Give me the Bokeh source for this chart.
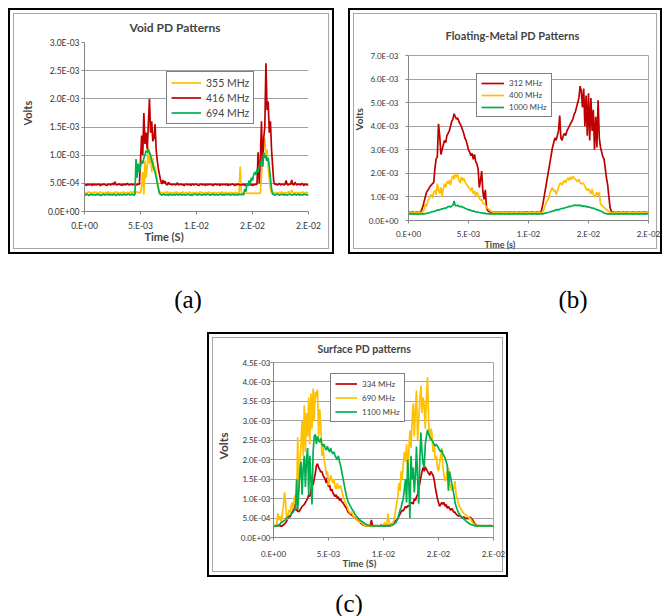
import numpy as np
from bokeh.plotting import figure
from bokeh.models import (Range1d, FixedTicker, Legend, LegendItem, Title, Div, Spacer,
                          ColumnDataSource)
from bokeh.layouts import row, column
from bokeh.embed import file_html
from bokeh.resources import INLINE

# ---------------- data ----------------
T_STEP = 1e-4          # seconds between samples
V_UNIT = 1e-4          # series values below are in units of 1e-4 V

X_TICKS = [0.0, 0.005, 0.01, 0.015, 0.02]
X_LABELS = ["0.E+00", "5.E-03", "1.E-02", "2.E-02", "2.E-02"]

A_Y_TICKS = [0.0, 0.0005, 0.001, 0.0015, 0.002, 0.0025, 0.003]
A_Y_LABELS = ["0.0E+00", "5.0E-04", "1.0E-03", "1.5E-03", "2.0E-03", "2.5E-03", "3.0E-03"]
B_Y_TICKS = [0.0, 0.001, 0.002, 0.003, 0.004, 0.005, 0.006, 0.007]
B_Y_LABELS = ["0.0E+00", "1.0E-03", "2.0E-03", "3.0E-03", "4.0E-03", "5.0E-03", "6.0E-03", "7.0E-03"]
C_Y_TICKS = [0.0, 0.0005, 0.001, 0.0015, 0.002, 0.0025, 0.003, 0.0035, 0.004, 0.0045]
C_Y_LABELS = ["0.0E+00", "5.0E-04", "1.0E-03", "1.5E-03", "2.0E-03", "2.5E-03", "3.0E-03",
              "3.5E-03", "4.0E-03", "4.5E-03"]

# (a) Void PD patterns
A_355 = [3.3,3.2,3.4,3.3,3.5,3.3,3.2,3.4,3.3,3.5, 3.3,3.4,3.2,3.3,3.5,3.3,3.4,3.2,3.3,3.4,
         3.3,3.5,3.2,3.4,3.3,3.2,3.4,3.3,3.5,3.3, 3.4,3.2,3.3,3.4,3.3,3.5,3.2,3.3,3.4,3.3,
         3.3,3.5,3.4,3.2,3.6,3.3,3.4,3.5,3.3,3.4, 3.3,4.5,7.0,3.0,9.0,6.0,8.0,11.5,8.5,10.0,
         7.0,9.5,7.5,8.0,6.5,5.5,4.2,3.5,3.3,3.4, 3.2,3.3,3.4,3.3,3.5,3.2,3.3,3.4,3.3,3.2,
         3.4,3.3,3.5,3.3,3.2,3.4,3.3,3.3,3.5,3.2, 3.3,3.4,3.2,3.3,3.5,3.3,3.2,3.4,3.3,3.3,
         3.4,3.3,3.2,3.5,3.3,3.4,3.3,3.2,3.4,3.3, 3.3,3.5,3.3,3.2,3.4,3.3,3.3,3.4,3.2,3.3,
         3.4,3.3,3.3,3.5,3.2,3.3,3.4,3.3,3.2,3.4, 3.3,3.4,3.2,3.3,3.3,3.4,3.2,3.3,3.3,8.0,
         3.3,3.2,3.2,3.3,3.2,3.2,3.3,3.2,3.2,3.3, 3.2,3.2,3.3,3.2,3.2,3.3,3.2,3.3,6.0,10.0,
         12.5,13.0,9.0,11.0,8.0,6.0,4.0,3.3,3.4,3.2, 3.3,3.4,3.3,3.2,3.4,3.3,3.5,3.3,3.2,3.4,
         3.3,3.3,3.5,3.4,3.3,3.8,3.4,3.2,3.3,3.4, 3.3,3.2,3.4,3.3,3.3,3.5,3.2,3.3,3.4,3.3, 3.3]
A_416 = [4.7,4.8,4.6,4.9,4.7,4.8,4.8,4.6,4.9,4.7, 4.8,4.7,4.9,4.8,4.6,4.8,4.7,4.9,4.8,4.7,
         4.6,4.8,4.9,4.7,4.8,5.0,4.7,5.3,4.8,4.7, 4.8,4.9,4.7,4.8,4.6,4.9,4.8,4.7,5.0,4.8,
         4.7,4.8,4.9,4.7,4.8,4.9,4.8,4.7,4.9,4.8, 9.0,13.5,10.0,17.5,12.0,14.0,11.0,15.5,20.0,14.0,
         16.0,12.5,13.0,15.5,11.0,9.0,7.5,6.5,5.5,4.9, 5.6,5.0,5.4,4.8,4.7,5.2,4.8,4.9,4.7,4.8,
         4.9,4.7,4.8,5.1,4.7,4.8,4.9,4.7,4.8,4.6, 4.8,4.9,4.7,4.8,4.8,4.6,4.9,4.8,4.7,4.9,
         4.8,4.7,4.6,4.8,4.9,4.7,4.8,4.8,4.6,4.9, 4.7,4.8,4.9,4.7,4.8,4.6,4.8,4.9,4.7,4.8,
         4.8,4.6,4.9,4.7,4.8,4.8,4.7,4.9,4.6,4.8, 4.7,4.8,4.9,4.8,4.6,4.8,4.7,4.9,4.8,4.7,
         4.8,4.7,4.9,4.6,4.8,4.7,4.9,4.8,4.7,4.8, 4.6,4.8,4.7,4.9,4.8,10.5,5.0,9.0,16.0,8.0,
         13.0,15.0,26.3,18.0,19.5,14.0,16.0,11.0,8.0,5.2, 4.8,4.9,4.7,4.8,5.0,4.7,4.8,4.9,4.7,4.8,
         5.5,4.8,4.7,4.9,4.8,5.6,4.8,4.7,5.2,4.8, 4.7,4.9,4.8,4.7,5.0,4.8,4.6,4.9,4.8,4.7, 4.8]
A_694 = [3.0,2.9,3.1,3.0,2.8,3.0,3.1,2.9,3.0,3.0, 2.9,3.0,3.1,2.9,3.0,2.8,3.0,3.1,2.9,3.0,
         3.0,3.1,2.9,3.0,3.0,2.9,3.1,3.0,2.8,3.0, 3.1,2.9,3.0,3.0,2.9,3.1,3.0,2.9,3.0,3.1,
         3.0,2.9,3.1,3.0,2.9,3.0,9.3,6.0,8.5,7.0, 8.0,9.0,8.5,9.5,10.0,10.8,10.5,11.0,10.5,10.0,
         9.0,8.5,7.5,7.0,6.0,5.0,4.0,3.2,3.0,2.9, 3.0,3.1,2.9,3.0,3.0,2.8,3.1,3.0,2.9,3.0,
         3.0,2.9,3.1,3.0,2.9,3.0,3.1,2.9,3.0,3.0, 2.9,3.0,3.0,3.1,2.9,3.0,2.8,3.0,3.1,3.0,
         3.0,2.9,3.1,3.0,3.0,2.9,3.0,3.1,2.9,3.0, 3.1,3.0,2.9,3.0,3.0,3.1,2.9,3.0,3.0,2.9,
         3.0,3.0,3.1,2.9,3.0,2.9,3.1,3.0,3.0,3.1, 2.9,3.0,3.0,3.1,2.9,3.0,3.0,2.9,3.1,3.0,
         3.0,3.1,2.9,4.0,3.5,5.0,4.5,5.5,4.8,6.0, 5.5,6.5,7.0,6.5,7.5,7.0,8.0,8.5,9.0,8.0,
         10.5,9.5,10.0,9.0,9.5,8.0,6.0,4.0,3.1,3.0, 2.9,3.0,3.1,3.0,2.9,3.0,3.0,3.1,2.9,3.0,
         3.0,2.9,3.0,3.1,3.0,2.9,3.0,3.0,3.1,2.9, 3.0,3.1,2.9,3.0,3.0,2.9,3.1,3.0,3.0,2.9, 3.0]

# (b) Floating-metal PD patterns
B_312 = [3.6,3.5,3.4,3.6,3.5,3.5,3.4,3.6,3.5,3.5, 3.6,4.5,6.0,8.0,10.0,12.0,12.7,13.5,14.5,15.0,
         15.7,16.0,22.0,26.0,27.0,41.0,36.0,28.0,30.0,32.0, 34.0,33.0,36.0,37.0,38.0,40.0,42.0,43.0,45.3,44.0,
         43.0,43.5,42.0,41.0,40.0,38.5,37.0,35.0,34.0,32.0, 30.0,29.0,27.5,28.5,26.0,28.0,25.0,24.0,22.0,14.0,
         17.0,21.0,12.0,9.0,13.0,5.5,4.2,3.8,3.6,3.5, 3.6,3.5,3.4,3.6,3.5,3.5,3.6,3.4,3.5,3.5,
         3.5,3.6,3.4,3.5,3.5,3.6,3.5,3.4,3.6,3.5, 3.4,3.5,3.6,3.5,3.5,3.4,3.6,3.5,3.5,3.6,
         3.5,3.4,3.5,3.6,3.5,3.5,3.4,3.6,3.5,3.5, 3.6,4.5,7.0,10.0,13.0,16.0,19.0,22.0,25.0,28.0,
         31.0,33.0,35.0,34.0,36.0,38.0,44.5,35.0,34.0,36.0, 37.0,36.0,38.0,39.0,40.0,41.0,42.0,43.0,45.0,46.0,
         48.0,50.0,52.0,57.0,55.0,48.0,56.0,40.0,53.0,36.0, 54.0,34.0,52.0,38.0,47.0,30.0,44.0,31.0,51.0,35.0,
         31.0,29.0,27.0,26.0,22.0,18.0,15.0,10.0,5.5,3.8, 3.5,3.6,3.4,3.5,3.5,3.6,3.5,3.4,3.5,3.6,
         3.5,3.4,3.6,3.5,3.5,3.4,3.5,3.6,3.5,3.5, 3.4,3.5,3.6,3.5,3.4,3.5,3.5,3.6,3.5,3.4, 3.5]
B_400 = [3.4,3.3,3.5,3.4,3.3,3.4,3.5,3.3,3.4,3.4, 3.4,3.5,3.6,4.5,7.0,6.0,8.5,9.0,10.5,11.0,
         9.5,12.0,12.7,11.0,15.6,13.0,11.4,14.0,10.0,13.5, 15.6,14.0,16.5,15.6,17.0,15.0,18.0,19.0,17.5,20.0,
         18.5,19.5,17.0,16.0,18.5,17.0,18.0,16.5,15.5,15.0, 14.0,13.6,12.5,14.0,11.3,12.5,10.5,12.0,11.0,9.5,
         8.5,9.0,7.5,7.0,6.5,5.5,5.2,4.7,4.2,3.9, 3.6,3.5,3.4,3.5,3.4,3.3,3.5,3.4,3.4,3.5,
         3.4,3.3,3.5,3.4,3.4,3.5,3.3,3.4,3.5,3.4, 3.3,3.4,3.5,3.4,3.3,3.4,3.5,3.4,3.4,3.3,
         3.4,3.5,3.4,3.3,3.4,3.5,3.4,3.4,3.3,3.5, 3.4,3.5,3.6,5.0,6.5,8.0,8.5,10.0,12.0,13.0,
         14.0,12.5,13.0,11.0,12.5,14.0,15.5,16.0,15.0,16.5, 17.0,16.0,17.5,18.0,17.0,18.5,17.5,18.6,18.0,17.5,
         17.0,16.5,17.5,16.0,15.5,16.0,15.5,14.5,13.5,12.7, 13.5,12.5,11.3,13.4,11.0,9.9,11.0,12.0,10.5,12.0,
         7.0,6.5,6.0,5.6,5.0,4.6,4.2,3.8,3.5,3.4, 3.4,3.3,3.5,3.4,3.4,3.3,3.5,3.4,3.3,3.4,
         3.5,3.4,3.3,3.4,3.5,3.4,3.4,3.3,3.5,3.4, 3.4,3.3,3.4,3.5,3.4,3.4,3.3,3.4,3.5,3.4, 3.4]
B_1000 = [2.8,2.7,2.9,2.8,2.8,2.7,2.9,2.8,2.7,2.8, 2.8,2.9,2.7,2.8,2.9,3.0,3.1,3.3,3.4,3.6,
          3.8,3.7,4.0,4.2,4.5,4.3,4.6,4.8,5.0,4.9, 5.3,5.2,5.5,5.8,6.0,5.7,6.2,6.5,8.3,6.3,
          6.2,6.5,6.0,5.8,6.1,5.5,5.6,5.2,5.0,4.8, 4.5,4.6,4.2,4.0,4.1,3.8,3.7,3.5,3.6,3.4,
          3.3,3.2,3.1,3.0,3.1,2.9,2.8,2.9,2.8,2.7, 2.8,2.9,2.7,2.8,2.8,2.9,2.7,2.8,2.9,2.8,
          2.7,2.8,2.8,2.9,2.7,2.8,2.8,2.7,2.9,2.8, 2.8,2.7,2.9,2.8,2.8,2.7,2.8,2.9,2.8,2.7,
          2.8,2.9,2.8,2.7,2.8,2.8,2.9,2.7,2.8,2.8, 2.8,2.9,2.8,3.0,3.1,3.2,3.4,3.5,3.7,3.8,
          4.0,4.1,4.3,4.5,4.6,4.5,4.8,5.0,5.2,5.1, 5.3,5.5,5.6,5.8,6.0,5.9,6.2,6.3,6.5,6.4,
          6.5,6.3,6.6,6.2,6.4,6.0,6.2,5.9,6.1,5.7, 5.8,5.6,5.5,5.2,5.3,5.0,4.8,4.6,4.5,4.2,
          4.0,3.8,3.5,3.2,3.0,2.9,2.8,2.8,2.7,2.8, 2.8,2.7,2.9,2.8,2.8,2.7,2.9,2.8,2.8,2.7,
          2.8,2.9,2.7,2.8,2.8,2.9,2.8,2.7,2.8,2.8, 2.9,2.8,2.7,2.8,2.8,2.9,2.8,2.7,2.8,2.8, 2.8]

# (c) Surface PD patterns
C_334 = [3.0,3.1,2.9,3.0,3.2,3.0,3.1,2.9,3.0,3.2, 3.5,3.8,4.2,5.0,5.5,5.2,6.0,6.5,7.0,8.5,
         7.5,7.0,6.8,6.6,7.0,7.5,8.0,8.2,8.5,9.0, 9.5,10.0,11.0,10.5,12.0,14.0,13.5,15.0,16.5,18.5,
         19.0,18.0,17.5,16.8,17.0,16.0,15.5,15.0,14.0,15.5, 13.0,13.5,12.0,12.5,11.5,11.0,10.5,11.0,10.0,10.5,
         9.5,10.0,9.2,9.0,8.5,8.0,7.7,7.0,6.5,6.2, 6.0,5.8,5.6,5.2,5.0,4.8,4.6,4.4,4.2,3.8,
         3.5,3.3,3.2,3.0,3.1,2.9,3.0,3.1,2.9,4.5, 3.0,3.1,2.9,3.0,3.0,3.1,2.9,3.0,3.2,3.0,
         3.1,2.9,3.0,3.0,3.2,3.1,3.0,3.3,3.5,3.8, 4.0,4.3,4.5,4.8,5.5,6.0,6.6,7.0,6.8,7.5,
         8.0,7.6,8.2,8.0,8.5,8.8,9.0,8.6,10.0,9.5, 10.5,11.0,12.5,14.0,15.5,17.0,18.0,17.0,18.2,17.5,
         17.0,16.5,16.0,17.0,16.5,16.0,15.0,13.0,11.5,10.0, 9.0,8.0,8.5,9.0,8.5,9.0,8.0,8.5,7.5,8.0,
         7.5,7.0,7.5,7.0,6.5,6.5,6.0,5.8,5.6,5.5, 5.5,5.2,5.0,5.3,5.0,4.8,5.0,4.8,5.0,5.2,
         4.8,4.5,4.0,3.5,3.2,3.0,3.1,2.9,3.0,3.1, 3.0,2.9,3.0,3.1,3.0,2.9,3.0,3.1,3.0,2.9, 3.0]
C_690 = [3.0,3.1,3.0,3.5,6.2,4.5,5.5,3.8,6.0,8.0, 11.6,9.0,4.5,5.7,7.0,6.5,8.0,9.0,7.5,10.0,
         11.0,9.0,25.8,12.0,18.0,24.0,30.0,21.0,34.0,22.0, 32.0,26.0,36.0,24.0,37.0,28.0,38.3,30.0,37.5,36.0,
         38.0,26.0,33.0,29.0,21.0,24.0,20.0,18.5,16.0,17.0, 13.4,14.5,16.0,15.0,14.0,15.0,13.0,12.5,14.0,12.5,
         13.0,13.4,12.0,11.0,10.0,9.2,8.5,8.0,7.0,6.6, 6.2,6.6,5.8,5.2,4.9,4.7,4.5,4.2,4.0,4.0,
         3.8,3.5,3.3,3.1,3.0,3.1,2.9,3.0,3.1,3.0, 3.0,2.9,3.1,3.0,3.0,2.9,3.0,3.1,3.0,2.9,
         3.0,3.9,3.2,3.1,6.2,4.0,3.5,3.2,3.0,4.0, 5.0,7.0,9.0,10.4,14.0,12.0,17.0,15.0,19.0,22.0,
         19.5,24.0,17.0,22.0,27.5,23.0,30.0,34.5,26.0,33.0, 37.8,25.0,30.0,35.0,39.0,32.0,36.0,34.0,28.0,36.0,
         41.2,30.0,25.0,28.0,27.0,22.0,24.0,20.0,21.0,18.0, 17.0,19.0,21.0,23.0,18.0,16.0,14.5,15.0,17.0,18.0,
         14.0,13.0,12.0,13.0,12.5,14.5,11.0,10.0,8.8,8.0, 7.5,7.1,6.5,6.2,6.0,5.8,5.5,5.2,5.0,4.8,
         4.4,3.8,3.5,3.2,3.1,3.0,2.9,3.0,3.1,3.0, 3.0,3.1,2.9,3.0,3.0,3.1,2.9,3.0,3.0,3.1, 3.0]
C_1100 = [3.0,2.9,3.0,3.1,3.0,3.2,3.5,3.8,4.0,4.2, 4.4,4.6,5.0,5.2,5.5,5.7,6.0,6.3,6.6,7.0,
          7.2,15.0,7.0,12.0,17.0,19.5,11.0,18.0,21.0,13.0, 20.0,23.0,11.0,21.0,15.0,8.5,22.0,26.0,26.5,24.0,
          26.0,25.0,24.5,25.5,24.0,23.5,24.0,23.0,22.5,23.5, 22.5,22.0,23.0,22.0,21.5,22.0,21.0,20.5,20.0,21.0,
          19.5,18.5,17.0,15.5,14.0,12.5,11.0,10.0,9.0,8.5, 8.0,7.5,7.0,6.6,6.0,5.6,5.3,5.0,4.7,4.4,
          4.2,4.0,3.8,3.6,3.4,3.3,3.2,3.1,3.0,3.1, 3.0,2.9,3.0,3.1,3.0,2.9,3.0,3.0,3.1,2.9,
          3.0,2.9,3.1,3.0,3.0,2.9,3.1,3.1,3.2,3.3, 3.5,3.8,4.2,4.9,6.0,7.0,7.7,9.0,10.0,12.5,
          15.0,9.0,20.0,14.0,5.0,21.0,15.0,18.0,11.6,16.0, 23.4,15.0,8.7,20.0,27.0,22.0,19.0,18.0,24.0,26.0,
          27.7,26.5,26.0,25.5,25.0,24.5,24.0,23.5,24.0,23.5, 23.0,22.5,22.0,22.5,21.5,21.0,20.5,19.5,18.5,12.0,
          17.0,15.5,14.0,12.5,11.0,9.0,8.0,7.2,6.5,6.0, 5.6,5.3,5.1,4.8,4.5,4.2,4.0,3.8,3.6,3.4,
          3.3,3.2,3.1,3.0,3.1,2.9,3.0,3.1,3.0,2.9, 3.0,3.1,2.9,3.0,3.0,2.9,3.1,3.0,3.0,2.9, 3.0]

RED, ORANGE, GREEN = "#C00000", "#FFC000", "#00B050"
FONT = "Lato"


def make_title(text, align, off, so, size):
    try:
        return Title(text=text, align=align, offset=off, standoff=so, text_font=FONT,
                     text_font_style="bold", text_font_size=size)
    except ValueError:
        return Title(text=text, align=align, offset=off, standoff=0, text_font=FONT,
                     text_font_style="bold", text_font_size=size)


def make_panel(w, h, borders, y_max, y_ticks, y_labels, series, legend_pos, legend_cfg,
               title, title_cfg, volts_cfg, time_text, time_cfg,
               tick_size, y_standoff, x_standoff, outline):
    left, right, top, bottom = borders
    p = figure(width=w, height=h, output_backend="svg", toolbar_location=None,
               x_range=Range1d(0, 0.02), y_range=Range1d(0, y_max),
               min_border_left=left, min_border_right=right,
               min_border_top=top, min_border_bottom=bottom, title=None)
    p.border_fill_color = None
    p.background_fill_color = "white"
    p.outline_line_color = "#a6a6a6" if outline else None
    p.styles = {"background-color": "white",
                "box-shadow": "inset 0 0 0 2px #000, inset 0 0 0 5px #fff, inset 0 0 0 6px #a6a6a6"}

    p.xaxis.ticker = FixedTicker(ticks=X_TICKS)
    p.xaxis.major_label_overrides = dict(zip(X_TICKS, X_LABELS))
    p.yaxis.ticker = FixedTicker(ticks=y_ticks)
    p.yaxis.major_label_overrides = dict(zip(y_ticks, y_labels))
    for ax in (p.xaxis, p.yaxis):
        ax.axis_line_color = "#868686"
        ax.major_tick_line_color = "#868686"
        ax.major_tick_out = 3
        ax.major_tick_in = 0
        ax.minor_tick_line_color = None
        ax.major_label_text_font = FONT
        ax.major_label_text_font_size = tick_size
        ax.major_label_text_color = "#333333"
    p.yaxis.major_label_standoff = y_standoff
    p.xaxis.major_label_standoff = x_standoff
    p.xgrid.visible = False
    p.ygrid.ticker = FixedTicker(ticks=y_ticks)
    p.ygrid.grid_line_color = "#a0a0a0"

    t = np.arange(201) * T_STEP
    items = []
    for name, vals, color in series:
        src = ColumnDataSource(dict(t=t, v=np.array(vals) * V_UNIT))
        r = p.line("t", "v", source=src, line_color=color, line_width=1.7)
        items.append(LegendItem(label=name, renderers=[r]))

    gw, gh, fs, pad, sp = legend_cfg
    leg = Legend(items=items, location=legend_pos, margin=0, padding=pad, spacing=sp,
                 glyph_width=gw, glyph_height=gh, label_height=gh, label_standoff=5,
                 label_text_font=FONT, label_text_font_size=fs,
                 border_line_color="black", border_line_width=1,
                 background_fill_color="white", background_fill_alpha=1.0)
    p.add_layout(leg)

    size, off, so = title_cfg
    p.add_layout(make_title(title, "left", off, so, size), "above")
    size, off, so = volts_cfg
    p.add_layout(make_title("Volts", "left", off, so, size), "left")
    size, off, so = time_cfg
    p.add_layout(make_title(time_text, "left", off, so, size), "below")
    return p


pa = make_panel(326, 246, (69, 26, 34, 43), 0.003, A_Y_TICKS, A_Y_LABELS,
                [("355 MHz", A_355, ORANGE), ("416 MHz", A_416, RED), ("694 MHz", A_694, GREEN)],
                (82, 87), (30, 13, "10.5px", 4, 2),
                "Void PD Patterns", ("12px", 45, 16), ("11px", 86, 21), "Time (S)", ("11px", 60, -12),
                "8.5px", 2, 6, False)
pb = make_panel(314, 246, (60, 14, 47, 34), 0.007, B_Y_TICKS, B_Y_LABELS,
                [("312 MHz", B_312, RED), ("400 MHz", B_400, ORANGE), ("1000 MHz", B_1000, GREEN)],
                (68, 103), (23, 10, "8px", 4, 2),
                "Floating-Metal PD Patterns", ("11px", 37, 28), ("10px", 90, 2), "Time (s)", ("9px", 76, -16),
                "8px", 7, 5, True)
pc = make_panel(301, 245, (60, 15, 30, 40), 0.0045, C_Y_TICKS, C_Y_LABELS,
                [("334 MHz", C_334, RED), ("690 MHz", C_690, ORANGE), ("1100 MHz", C_1100, GREEN)],
                (57, 115), (22, 11, "8px", 4, 3),
                "Surface PD patterns", ("10.5px", 44, 16), ("12px", 78, 13), "Time (S)", ("9.5px", 69, -14),
                "8px", 0, 8, True)

SERIF = "font-family:'Liberation Serif',serif;font-size:25px;line-height:20px;color:#000;"
lab_ab = Div(width=662, height=78, margin=0, text=(
    f'<div style="position:relative;width:662px;height:78px;{SERIF}">'
    '<div style="position:absolute;left:158px;top:36px;width:60px;text-align:center">(a)</div>'
    '<div style="position:absolute;left:543px;top:36px;width:60px;text-align:center">(b)</div>'
    '</div>'))
lab_c = Div(width=662, height=38, margin=0, text=(
    f'<div style="position:relative;width:662px;height:38px;{SERIF}">'
    '<div style="position:absolute;left:319px;top:17px;width:60px;text-align:center">(c)</div>'
    '</div>'))

layout = column(
    Spacer(width=662, height=8),
    row(Spacer(width=8, height=246), column(pa), Spacer(width=14, height=246), column(pb)),
    lab_ab,
    row(Spacer(width=207, height=245), column(pc)),
    lab_c,
)

open("out.html", "w").write(file_html(layout, INLINE))
